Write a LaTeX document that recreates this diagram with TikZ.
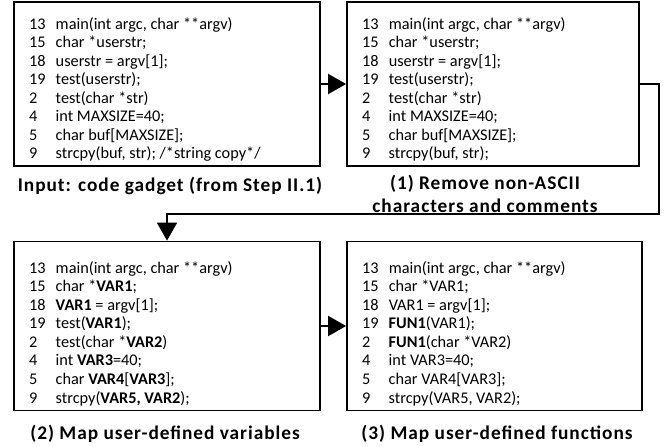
\documentclass[tikz,border=0pt]{standalone}
\usepackage{fontspec}
\setmainfont{Carlito}
\newfontfamily\capfont[LetterSpace=5]{Carlito}
\usetikzlibrary{positioning, arrows.meta}

\begin{document}
\begin{tikzpicture}[
	box/.style={draw, line width=1.5pt, minimum width=9.18cm, minimum height=4.92cm, inner sep=0pt},
	code/.style={anchor=base west, inner sep=0pt, font=\fontsize{13.9}{15.8}\selectfont},
	captext/.style={anchor=base, align=center, inner sep=0pt, font=\capfont\fontsize{16.5}{18.8}\selectfont\bfseries},
	flow/.style={line width=1.5pt, -{Triangle[length=0.54cm, width=0.6cm]}}
]
	\useasboundingbox (0,0) rectangle (20.04,-13.38);
	% boxes
	\node[box] (b1) at (5.01, -2.52) {};
	\node[box, minimum width=8.76cm] (b2) at (14.79, -2.52) {};
	\node[box, minimum height=5.07cm] (b3) at (5.01, -9.78) {};
	\node[box, minimum width=8.85cm, minimum height=5.07cm] (b4) at (14.835, -9.78) {};
	% code lines
	\node[code] (t1) at (0.87, -4.76) {\begin{tabular}[b]{@{}l@{\hspace{0.3cm}}l@{}}
		13 & main(int argc, char **argv)\\
		15 & char *userstr;\\
		18 & userstr = argv[1];\\
		19 & test(userstr);\\
		2 & test(char *str)\\
		4 & int MAXSIZE=40;\\
		5 & char buf[MAXSIZE];\\
		9 & strcpy(buf, str); /*string copy*/
	\end{tabular}};
	\node[code] (t2) at (10.86, -4.76) {\begin{tabular}[b]{@{}l@{\hspace{0.3cm}}l@{}}
		13 & main(int argc, char **argv)\\
		15 & char *userstr;\\
		18 & userstr = argv[1];\\
		19 & test(userstr);\\
		2 & test(char *str)\\
		4 & int MAXSIZE=40;\\
		5 & char buf[MAXSIZE];\\
		9 & strcpy(buf, str);
	\end{tabular}};
	\node[code] (t3) at (0.87, -12.09) {\begin{tabular}[b]{@{}l@{\hspace{0.3cm}}l@{}}
		13 & main(int argc, char **argv)\\
		15 & char *\textbf{VAR1};\\
		18 & \textbf{VAR1} = argv[1];\\
		19 & test(\textbf{VAR1});\\
		2 & test(char *\textbf{VAR2})\\
		4 & int \textbf{VAR3}=40;\\
		5 & char \textbf{VAR4}[\textbf{VAR3}];\\
		9 & strcpy(\textbf{VAR5, VAR2});
	\end{tabular}};
	\node[code] (t4) at (10.86, -12.09) {\begin{tabular}[b]{@{}l@{\hspace{0.3cm}}l@{}}
		13 & main(int argc, char **argv)\\
		15 & char *VAR1;\\
		18 & VAR1 = argv[1];\\
		19 & \textbf{FUN1}(VAR1);\\
		2 & \textbf{FUN1}(char *VAR2)\\
		4 & int VAR3=40;\\
		5 & char VAR4[VAR3];\\
		9 & strcpy(VAR5, VAR2);
	\end{tabular}};
	% captions
	\node[captext] (c1) at (5.1, -5.73) {Input: code gadget (from Step II.1)};
	\node[captext] (c2) at (14.55, -6.36) {(1) Remove non-ASCII\\characters and comments};
	\node[captext] (c3) at (4.95, -13.17) {(2) Map user-defined variables};
	\node[captext] (c4) at (14.91, -13.17) {(3) Map user-defined functions};
	% connectors
	\coordinate (turn) at (19.77, -6.42);
	\draw[flow] (b1) -- (b2);
	\draw[flow] (b2.east) -| (turn) -| (b3.north);
	\draw[flow] (b3) -- (b4);
\end{tikzpicture}
\end{document}
